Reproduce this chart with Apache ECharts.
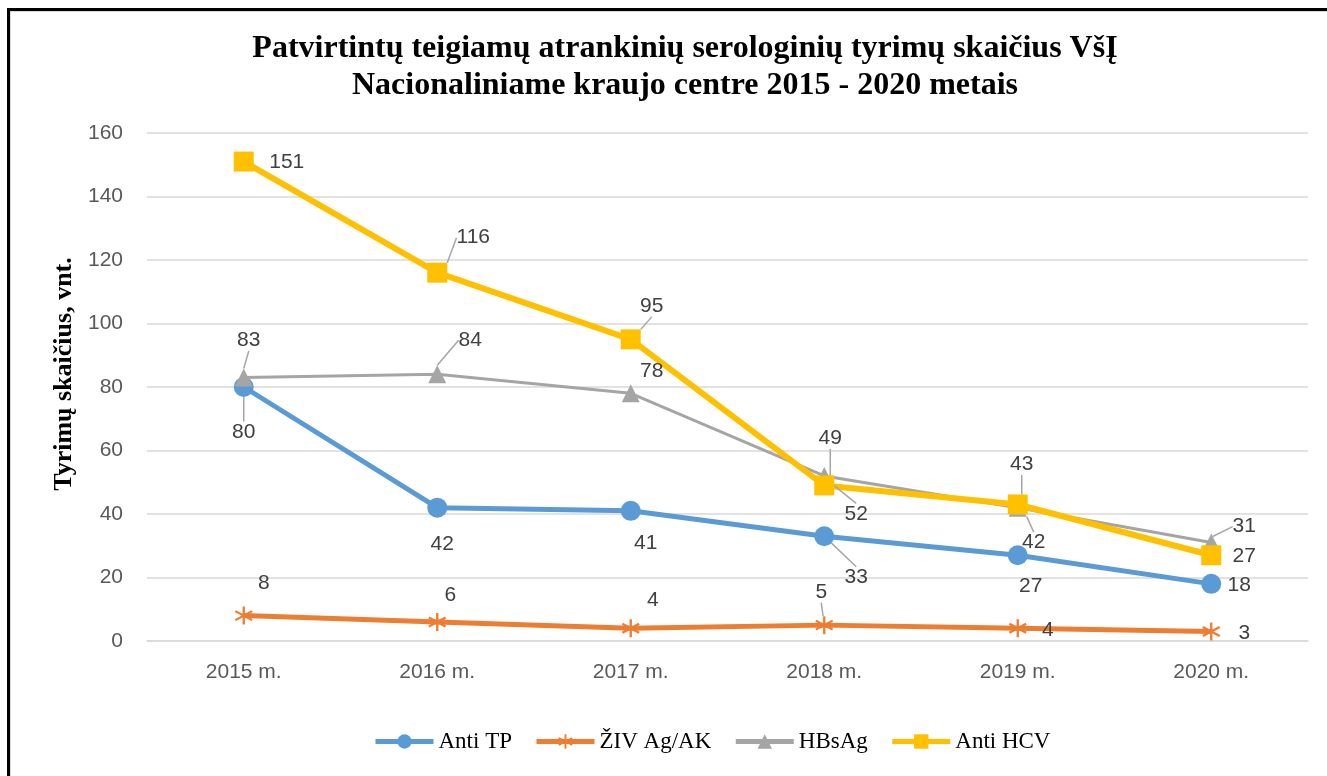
<!DOCTYPE html>
<html>
<head>
<meta charset="utf-8">
<script src="https://cdn.jsdelivr.net/npm/echarts@6/dist/echarts.min.js"></script>
<style>
  html, body { margin: 0; padding: 0; background: #fff; }
  #frame {
    position: absolute; left: 7px; top: 8px; width: 1320px; height: 768px;
    border-top: 3px solid #000; border-left: 3px solid #000;
    box-shadow: inset 1px 1px 0 #d9d9d9;
  }
  #chart { position: absolute; left: 0; top: 0; width: 1327px; height: 776px; }
</style>
</head>
<body>
<div id="frame"></div>
<div id="chart"></div>
<script>
const years = ["2015 m.", "2016 m.", "2017 m.", "2018 m.", "2019 m.", "2020 m."];

const antiTP = [80, 42, 41, 33, 27, 18];
const ziv = [8, 6, 4, 5, 4, 3];
const hbsag = [83, 84, 78, 52, 42, 31];
const antiHCV = [151, 116, 95, 49, 43, 27];

// label placement (px from the marker), per series, per point
const labelOffsets = {
  tp: [[0, 45], [5, 37], [15, 32], [32, 41], [13, 31], [28, 1]],
  ziv: [[20, -32], [13, -27], [22, -28], [-3, -33], [30, 2], [33, 2]],
  hbs: [[5, -37], [33, -34], [21, -22], [32, 38], [16, 35], [33, -16]],
  hcv: [[43, 1], [36, -35], [21, -33], [6, -47], [4, -40], [33, 1]],
};
const leaders = {
  tp: [true, false, false, true, false, false],
  ziv: [false, false, false, true, false, false],
  hbs: [true, true, false, true, true, true],
  hcv: [false, true, true, true, true, false],
};

const starPath =
  "path://M8.8,0L11.2,0L11.2,20L8.8,20Z" +
  "M18.06,3.96L19.26,6.04L1.94,16.04L0.74,13.96Z" +
  "M0.74,6.04L1.94,3.96L19.26,13.96L18.06,16.04Z";

function makeData(values, key) {
  return values.map((v, i) => ({
    value: v,
    labelLine: { show: leaders[key][i] },
  }));
}

function makeSeries(name, key, values, color, width, symbol, size) {
  return {
    name: name,
    type: "line",
    data: makeData(values, key),
    symbol: symbol,
    symbolSize: size,
    showAllSymbol: true,
    lineStyle: { color: color, width: width },
    itemStyle: { color: color },
    label: {
      show: true,
      position: "inside",
      color: "#404040",
      fontSize: 21,
      fontFamily: "Liberation Sans",
    },
    labelLine: {
      show: true,
      lineStyle: { color: "#a6a6a6", width: 1.5 },
    },
    labelLayout: function (params) {
      const o = labelOffsets[key][params.dataIndex];
      return { dx: o[0], dy: o[1] };
    },
    emphasis: { disabled: true },
  };
}

const chart = echarts.init(document.getElementById("chart"));

chart.setOption({
  animation: false,
  title: {
    text: "Patvirtintų teigiamų atrankinių serologinių tyrimų skaičius VšĮ\nNacionaliniame kraujo centre 2015 - 2020 metais",
    left: 680,
    textAlign: "center",
    top: 25,
    textStyle: {
      fontFamily: "Liberation Serif",
      fontWeight: "bold",
      fontSize: 32,
      lineHeight: 37,
      color: "#000",
    },
  },
  legend: {
    bottom: 18,
    left: 368,
    itemWidth: 58,
    itemHeight: 18,
    itemGap: 22,
    lineStyle: { width: 5 },
    textStyle: { fontFamily: "Liberation Serif", fontSize: 23, color: "#000" },
    data: ["Anti TP", "ŽIV Ag/AK", "HBsAg", "Anti HCV"],
  },
  grid: { left: 147, right: 19, top: 133, bottom: 135 },
  xAxis: {
    type: "category",
    data: years,
    boundaryGap: true,
    axisLine: { show: true, lineStyle: { color: "#d9d9d9", width: 1.5 } },
    axisTick: { show: false },
    axisLabel: {
      color: "#595959",
      fontSize: 21,
      fontFamily: "Liberation Sans",
      margin: 21,
    },
  },
  yAxis: {
    type: "value",
    min: 0,
    max: 160,
    interval: 20,
    name: "Tyrimų skaičius, vnt.",
    nameLocation: "middle",
    nameGap: 66,
    nameTextStyle: {
      fontFamily: "Liberation Serif",
      fontWeight: "bold",
      fontSize: 26,
      color: "#000",
      padding: [0, 0, 0, 26],
    },
    axisLine: { show: false },
    axisTick: { show: false },
    splitLine: { lineStyle: { color: "#d9d9d9", width: 1.5 } },
    axisLabel: {
      color: "#595959",
      fontSize: 21,
      fontFamily: "Liberation Sans",
      margin: 24,
    },
  },
  series: [
    makeSeries("Anti TP", "tp", antiTP, "#5b9bd5", 5, "circle", 20),
    makeSeries("ŽIV Ag/AK", "ziv", ziv, "#ed7d31", 5, starPath, 18),
    makeSeries("HBsAg", "hbs", hbsag, "#a5a5a5", 3, "triangle", 18),
    makeSeries("Anti HCV", "hcv", antiHCV, "#ffc000", 6, "rect", 20),
  ],
});
</script>
</body>
</html>
